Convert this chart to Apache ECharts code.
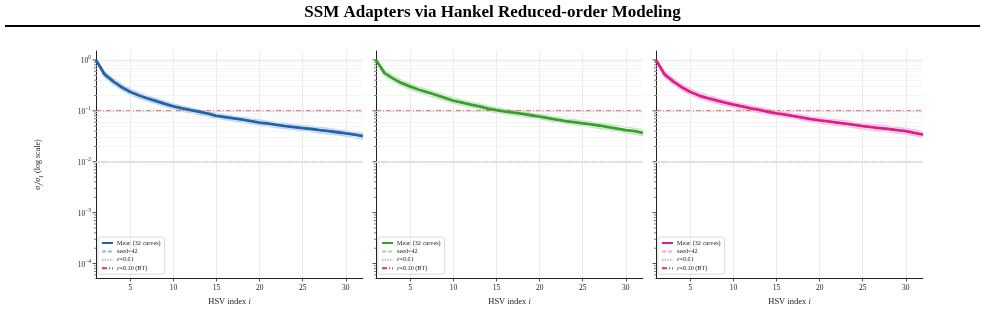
<!DOCTYPE html>
<html>
<head>
<meta charset="utf-8">
<script src="https://cdn.jsdelivr.net/npm/echarts@6/dist/echarts.min.js"></script>
<style>
html,body{margin:0;padding:0;background:#fff;}
#chart{width:985px;height:327px;}
</style>
</head>
<body>
<div id="chart"></div>
<script>
// ---------- data ----------
const hsvIndex = [1,2,3,4,5,6,7,8,9,10,11,12,13,14,15,16,17,18,19,20,21,22,23,24,25,26,27,28,29,30,31,32];

const blueMean = [1.0,0.52,0.38,0.29,0.235,0.20,0.175,0.155,0.137,0.123,0.112,0.103,0.095,0.088,0.080,0.075,0.071,0.067,0.063,0.059,0.056,0.053,0.050,0.048,0.046,0.044,0.042,0.040,0.038,0.036,0.034,0.032];
const blueHi   = [1.0,0.58,0.43,0.33,0.265,0.225,0.195,0.172,0.152,0.136,0.123,0.113,0.104,0.096,0.089,0.083,0.078,0.074,0.070,0.066,0.062,0.059,0.056,0.053,0.051,0.049,0.047,0.045,0.042,0.040,0.038,0.036];
const blueLo   = [1.0,0.46,0.335,0.258,0.208,0.178,0.157,0.139,0.123,0.110,0.100,0.092,0.085,0.078,0.072,0.068,0.064,0.060,0.056,0.053,0.050,0.047,0.045,0.043,0.041,0.039,0.037,0.035,0.034,0.032,0.030,0.028];
const blueSeed = [1.0,0.54,0.39,0.30,0.24,0.205,0.178,0.157,0.14,0.125,0.114,0.104,0.096,0.089,0.082,0.076,0.072,0.068,0.064,0.060,0.057,0.054,0.051,0.049,0.047,0.045,0.043,0.041,0.039,0.037,0.035,0.033];

const greenMean = [1.0,0.55,0.43,0.35,0.30,0.26,0.23,0.205,0.18,0.158,0.145,0.133,0.122,0.111,0.103,0.097,0.092,0.087,0.082,0.077,0.072,0.067,0.063,0.060,0.057,0.054,0.051,0.048,0.045,0.042,0.040,0.037];
const greenHi   = [1.0,0.63,0.49,0.40,0.34,0.295,0.26,0.23,0.202,0.178,0.162,0.148,0.136,0.124,0.115,0.107,0.101,0.096,0.090,0.085,0.080,0.075,0.070,0.067,0.063,0.060,0.057,0.054,0.051,0.048,0.045,0.042];
const greenLo   = [1.0,0.48,0.38,0.31,0.264,0.23,0.203,0.182,0.160,0.141,0.129,0.119,0.109,0.099,0.092,0.087,0.083,0.078,0.074,0.069,0.065,0.060,0.057,0.054,0.051,0.048,0.045,0.043,0.040,0.037,0.035,0.033];
const greenSeed = [1.0,0.57,0.44,0.36,0.305,0.265,0.233,0.207,0.183,0.161,0.147,0.135,0.124,0.113,0.105,0.099,0.094,0.088,0.083,0.078,0.073,0.068,0.064,0.061,0.058,0.055,0.052,0.049,0.046,0.043,0.041,0.038];

const pinkMean = [1.0,0.52,0.38,0.29,0.235,0.20,0.178,0.160,0.145,0.133,0.122,0.112,0.104,0.096,0.089,0.084,0.079,0.074,0.069,0.065,0.062,0.059,0.056,0.053,0.050,0.048,0.046,0.044,0.042,0.040,0.037,0.034];
const pinkHi   = [1.0,0.59,0.43,0.33,0.268,0.228,0.202,0.180,0.162,0.148,0.136,0.125,0.116,0.107,0.099,0.093,0.088,0.082,0.077,0.073,0.069,0.066,0.063,0.059,0.056,0.054,0.052,0.050,0.047,0.045,0.042,0.039];
const pinkLo   = [1.0,0.46,0.335,0.256,0.208,0.178,0.158,0.143,0.129,0.119,0.109,0.100,0.093,0.086,0.080,0.076,0.071,0.067,0.062,0.058,0.055,0.052,0.050,0.047,0.044,0.042,0.041,0.039,0.037,0.035,0.033,0.030];
const pinkSeed = [1.0,0.53,0.39,0.30,0.24,0.205,0.181,0.163,0.148,0.135,0.124,0.114,0.106,0.098,0.091,0.085,0.080,0.075,0.070,0.066,0.063,0.060,0.057,0.054,0.051,0.049,0.047,0.045,0.043,0.041,0.038,0.035];

const EPS_SMALL = 0.01;
const EPS_BT = 0.10;
const xTicks = [5,10,15,20,25,30];
const yMajor = [1e-4,1e-3,1e-2,1e-1,1];
const legendNames = ['Mean (32 curves)','seed=42','{i|ε}=0.01','{i|ε}=0.10 (BT)'];
const titleText = 'SSM Adapters via Hankel Reduced-order Modeling';

// ---------- layout ----------
const FONT = '"Liberation Serif", "Times New Roman", serif';
const Y_MIN = 5.2e-5, Y_MAX = 1.5;
const panels = [
  {left:96, color:'#1f63ad', light:'#8db4de', mean:blueMean, hi:blueHi, lo:blueLo, seed:blueSeed},
  {left:376, color:'#36a02a', light:'#9bd08f', mean:greenMean, hi:greenHi, lo:greenLo, seed:greenSeed},
  {left:656, color:'#dc1d8b', light:'#ef9cc9', mean:pinkMean, hi:pinkHi, lo:pinkLo, seed:pinkSeed}
];
const GW = 267, GTOP = 51, GH = 227;

const minorVals = [];
for (let e = -5; e <= 0; e++) {
  for (let m = 2; m <= 9; m++) {
    const v = m * Math.pow(10, e);
    if (v > Y_MIN && v < Y_MAX) minorVals.push(v);
  }
}
const zip = arr => hsvIndex.map((x, k) => [x, arr[k]]);

const grids = [], xAxes = [], yAxes = [], series = [], legends = [];
panels.forEach((p, gi) => {
  grids.push({left:p.left, top:GTOP, width:GW, height:GH, containLabel:false});
  xAxes.push({
    type:'value', gridIndex:gi, min:1, max:32,
    name:'HSV index {i|i}', nameLocation:'middle', nameGap:19,
    nameTextStyle:{fontFamily:FONT, fontSize:8.5, color:'#222', rich:{i:{fontFamily:FONT, fontSize:8.5, fontStyle:'italic', color:'#222'}}},
    axisLine:{lineStyle:{color:'#222', width:1}},
    axisTick:{show:true, length:3.5, customValues:xTicks, lineStyle:{color:'#222', width:0.8}},
    axisLabel:{customValues:xTicks, fontFamily:FONT, fontSize:7.5, color:'#222', margin:6},
    splitLine:{show:false}
  });
  yAxes.push({
    type:'log', logBase:10, gridIndex:gi, min:Y_MIN, max:Y_MAX,
    name: gi === 0 ? '{s|σ}{sub|i}{n|/}{s|σ}{sub|1}{n| (log scale)}' : '',
    nameLocation:'middle', nameGap:52, nameRotate:90,
    nameTextStyle:{fontFamily:FONT, fontSize:8, color:'#222', rich:{
      s:{fontFamily:FONT, fontSize:8, fontStyle:'italic', color:'#222'},
      sub:{fontFamily:FONT, fontSize:6, fontStyle:'italic', color:'#222', verticalAlign:'bottom', lineHeight:12},
      n:{fontFamily:FONT, fontSize:8, color:'#222'}
    }},
    axisLine:{show:true, lineStyle:{color:'#222', width:1}},
    axisTick:{show:false},
    axisLabel:{show: gi === 0, showMinLabel:false, showMaxLabel:false, margin:5,
      formatter: v => {
        const e = Math.round(Math.log10(v));
        return '{b|10}{s|' + (e < 0 ? '−' + (-e) : e) + '}';
      },
      rich:{
        b:{fontFamily:FONT, fontSize:7.5, color:'#222', verticalAlign:'bottom', lineHeight:10},
        s:{fontFamily:FONT, fontSize:5.5, color:'#222', verticalAlign:'top', lineHeight:10}
      }
    },
    splitLine:{show:false}
  });

  // grid lines (through the axes' scales)
  const gl = [];
  xTicks.forEach(v => gl.push({xAxis:v, lineStyle:{color:'#e4e4e4', width:0.8, type:'solid'}}));
  minorVals.forEach(v => gl.push({yAxis:v, lineStyle:{color:'#efefef', width:0.6, type:'solid'}}));
  yMajor.forEach(v => gl.push({yAxis:v, lineStyle:{color:'#e0e0e0', width:0.8, type:'solid'}}));
  series.push({
    type:'line', name:'grid'+gi, xAxisIndex:gi, yAxisIndex:gi, data:[], z:1, silent:true,
    markLine:{silent:true, symbol:['none','none'], label:{show:false}, animation:false, data:gl}
  });

  // faint individual curves
  [p.hi, p.lo].forEach((arr, k) => series.push({
    type:'line', name:'faint'+gi+'_'+k, xAxisIndex:gi, yAxisIndex:gi, data:zip(arr),
    showSymbol:false, symbol:'none', z:3, silent:true,
    lineStyle:{color:p.color, width:1.6, opacity:0.28}
  }));

  // seed=42
  series.push({
    type:'line', name:'p'+gi+'_1', xAxisIndex:gi, yAxisIndex:gi, data:zip(p.seed),
    symbol:'none', z:4, lineStyle:{color:p.light, width:1.2, type:[4,2], opacity:0.9}, itemStyle:{color:p.light}
  });
  // mean
  series.push({
    type:'line', name:'p'+gi+'_0', xAxisIndex:gi, yAxisIndex:gi, data:zip(p.mean),
    symbol:'none', z:5, lineStyle:{color:p.color, width:2.8}, itemStyle:{color:p.color}
  });
  // eps = 0.01
  series.push({
    type:'line', name:'p'+gi+'_2', xAxisIndex:gi, yAxisIndex:gi, data:[[1,EPS_SMALL],[32,EPS_SMALL]],
    symbol:'none', z:4, lineStyle:{color:'#a8a8a8', width:1, type:[1.2,1.5]}, itemStyle:{color:'#a8a8a8'}
  });
  // eps = 0.10 (BT)
  series.push({
    type:'line', name:'p'+gi+'_3', xAxisIndex:gi, yAxisIndex:gi, data:[[1,EPS_BT],[32,EPS_BT]],
    symbol:'none', z:4, lineStyle:{color:'#dc3a35', width:1, type:[5,2,1,2]}, itemStyle:{color:'#dc3a35'}
  });

  // y ticks (major + minor) via the axis scale
  const tickData = yMajor.map(v => [1, v, 1]).concat(minorVals.map(v => [1, v, 0]));
  series.push({
    type:'custom', name:'ticks'+gi, xAxisIndex:gi, yAxisIndex:gi, coordinateSystem:'cartesian2d',
    data:tickData, clip:false, silent:true, z:6, encode:{x:0, y:1},
    renderItem:(params, api) => {
      const c = api.coord([api.value(0), api.value(1)]);
      const major = api.value(2) === 1;
      const len = major ? 3.5 : 2;
      return {type:'line', shape:{x1:c[0]-len, y1:c[1], x2:c[0], y2:c[1]},
        style:{stroke:'#222', lineWidth: major ? 0.8 : 0.6}};
    }
  });

  legends.push({
    data:['p'+gi+'_0','p'+gi+'_1','p'+gi+'_2','p'+gi+'_3'],
    orient:'vertical', left:p.left + 2, top:237,
    itemWidth:11, itemHeight:6, itemGap:2.4,
    padding:[3,4,3,3],
    backgroundColor:'rgba(255,255,255,0.85)', borderColor:'#cfcfcf', borderWidth:0.8, borderRadius:2,
    selectedMode:false,
    itemStyle:{color:'rgba(0,0,0,0)', borderWidth:0, opacity:0},
    formatter: name => legendNames[+name.split('_')[1]],
    textStyle:{fontFamily:FONT, fontSize:6.2, color:'#222', padding:[0,0,0,-1],
      rich:{i:{fontFamily:FONT, fontSize:6.2, fontStyle:'italic', color:'#222'}}}
  });
});

const chart = echarts.init(document.getElementById('chart'), null, {renderer:'canvas'});
chart.setOption({
  animation:false,
  backgroundColor:'#fff',
  grid:grids, xAxis:xAxes, yAxis:yAxes, series:series, legend:legends,
  graphic:[
    {type:'text', left:'center', top:4, style:{text:titleText, font:'bold 17px ' + FONT, fill:'#000'}},
    {type:'line', shape:{x1:5, y1:26, x2:980, y2:26}, style:{stroke:'#000', lineWidth:2}}
  ]
});
</script>
</body>
</html>
